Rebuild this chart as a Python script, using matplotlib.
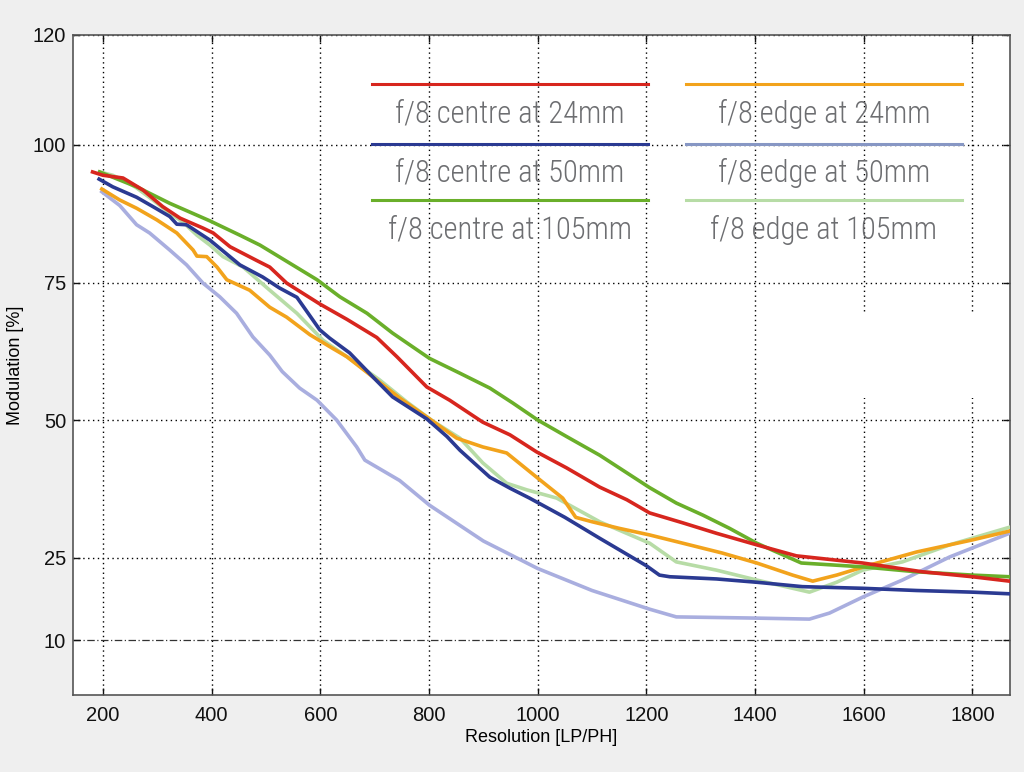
import matplotlib
matplotlib.use("Agg")
import matplotlib.pyplot as plt
from matplotlib.patches import Rectangle
from matplotlib import font_manager

# ---- data ----
red_x = [181, 200, 237, 274, 310, 342, 384, 403, 434, 483, 507, 538, 599, 649, 704, 741, 796, 838, 899, 949, 998, 1053, 1114, 1164, 1206, 1267, 1329, 1403, 1476, 1598, 1708, 1800, 1868]
red_y = [95.1, 94.5, 94.0, 91.8, 88.8, 86.7, 84.9, 84, 81.5, 79, 77.8, 74.9, 71.1, 68.3, 65, 61.5, 56, 53.6, 49.6, 47.3, 44.2, 41.3, 37.8, 35.5, 33.1, 31.3, 29.4, 27.3, 25.3, 24, 22.4, 21.5, 20.7]

green_x = [194, 262, 323, 397, 452, 489, 544, 594, 636, 686, 733, 801, 857, 912, 954, 1000, 1053, 1114, 1206, 1255, 1304, 1353, 1403, 1485, 1598, 1697, 1800, 1868]
green_y = [95.1, 92.4, 89.4, 86.2, 83.6, 81.8, 78.5, 75.5, 72.4, 69.4, 65.8, 61.2, 58.5, 55.8, 53.1, 50, 47, 43.6, 37.7, 34.9, 32.7, 30.3, 27.6, 24, 23.3, 22.4, 21.8, 21.5]

blue_x = [193, 218, 262, 292, 323, 336, 354, 397, 452, 494, 525, 557, 599, 617, 654, 697, 733, 796, 833, 857, 912, 949, 985, 1050, 1114, 1200, 1224, 1243, 1329, 1403, 1487, 1598, 1697, 1800, 1868]
blue_y = [93.8, 92.4, 90.5, 88.8, 87, 85.6, 85.5, 82.7, 78.2, 76, 74, 72.3, 66.4, 64.9, 62.2, 57.8, 54.2, 50.2, 47, 44.5, 39.6, 37.6, 35.8, 32.3, 28.5, 23.5, 21.8, 21.5, 21.1, 20.5, 19.7, 19.4, 19, 18.7, 18.4]

orange_x = [198, 231, 262, 299, 336, 366, 373, 391, 410, 428, 470, 507, 538, 581, 623, 649, 697, 746, 801, 851, 899, 943, 998, 1046, 1070, 1100, 1150, 1206, 1267, 1340, 1403, 1469, 1506, 1550, 1610, 1697, 1800, 1868]
orange_y = [92, 90, 88.5, 86.4, 84, 80.9, 79.8, 79.7, 77.8, 75.5, 73.6, 70.5, 68.7, 65.5, 63, 61.5, 57.8, 54, 50.2, 46.7, 45.1, 44, 39.6, 35.8, 32.3, 31.5, 30.3, 29.1, 27.6, 25.8, 24, 21.8, 20.7, 21.8, 23.6, 26, 28.2, 29.8]

purple_x = [198, 231, 262, 286, 323, 354, 384, 415, 446, 476, 507, 530, 562, 594, 630, 667, 682, 746, 801, 900, 1000, 1100, 1206, 1255, 1390, 1500, 1537, 1598, 1671, 1758, 1868]
purple_y = [91.5, 89, 85.5, 84, 80.9, 78.2, 74.9, 72.4, 69.4, 65.1, 61.8, 58.8, 55.8, 53.6, 50, 45.1, 42.7, 39, 34.5, 28, 23, 19, 15.6, 14.2, 14, 13.8, 14.9, 17.8, 20.9, 25.1, 29.4]

lgreen_x = [194, 218, 244, 262, 292, 323, 347, 373, 397, 421, 458, 507, 557, 605, 649, 709, 759, 807, 857, 899, 943, 980, 1035, 1114, 1206, 1255, 1329, 1403, 1500, 1550, 1598, 1671, 1758, 1868]
lgreen_y = [95.1, 94.5, 93.3, 92.2, 90, 87.6, 86, 83.6, 81.8, 79.7, 77.8, 73.6, 69.4, 64.5, 61.5, 57.3, 53.3, 49.8, 46.7, 42.2, 38.5, 37.3, 35.8, 31.5, 27.6, 24.2, 22.7, 20.9, 18.7, 20.5, 22.7, 24.2, 27.3, 30.5]

labels_left = ["f/8 centre at 24mm", "f/8 centre at 50mm", "f/8 centre at 105mm"]
labels_right = ["f/8 edge at 24mm", "f/8 edge at 50mm", "f/8 edge at 105mm"]

x_ticks = [200, 400, 600, 800, 1000, 1200, 1400, 1600, 1800]
y_ticks = [10, 25, 50, 75, 100, 120]

# ---- style ----
c_red = "#d7261e"
c_blue = "#2b3a92"
c_green = "#6aaf2a"
c_orange = "#f2a31c"
c_purple = "#a9aedf"
c_lgreen = "#b7dca6"
c_purple_leg = "#8797c4"

fonts = font_manager.fontManager.ttflist
avail = {f.name for f in fonts}
leg_font = "DejaVu Sans"
for cand in ["Liberation Sans Narrow", "Roboto Condensed", "DejaVu Sans Condensed", "Open Sans Condensed"]:
    if cand in avail:
        leg_font = cand
        break
has_light = any(f.name == leg_font and f.weight in (300, "light") for f in fonts)
leg_weight = "light" if has_light else "normal"

plt.rcParams['font.family'] = ['Liberation Sans', 'DejaVu Sans']

fig = plt.figure(figsize=(10.24, 7.72), dpi=100, facecolor="#efefef")
ax = fig.add_axes([73/1024, 1 - 695/772, (1010 - 73)/1024, (695 - 35)/772])
ax.set_facecolor("white")

lw = 2.6
ax.plot(lgreen_x, lgreen_y, color=c_lgreen, lw=lw, zorder=3)
ax.plot(purple_x, purple_y, color=c_purple, lw=lw, zorder=3)
ax.plot(orange_x, orange_y, color=c_orange, lw=lw, zorder=4)
ax.plot(blue_x, blue_y, color=c_blue, lw=lw, zorder=4)
ax.plot(green_x, green_y, color=c_green, lw=lw, zorder=5)
ax.plot(red_x, red_y, color=c_red, lw=lw, zorder=5)

ax.set_xlim(145, 1869)
ax.set_ylim(0, 120)
ax.set_xticks(x_ticks)
ax.set_yticks(y_ticks)
ax.tick_params(direction="in", length=5, width=1, top=True, right=True,
               labelsize=14.5, colors="#111111", pad=8)
ax.tick_params(axis="y", pad=5)
for s in ax.spines.values():
    s.set_color("#555555")
    s.set_linewidth(1.2)

ax.grid(True, linestyle=(0, (1, 2.5)), color="black", linewidth=1.0, zorder=1)
for val, gl in zip(y_ticks, ax.get_ygridlines()):
    if val == 10:
        gl.set_linestyle((0, (6, 2, 1, 2)))
        gl.set_color("#333333")
        gl.set_linewidth(0.9)
ax.set_axisbelow(True)

# white patch that hides part of the grid on the right
ax.add_patch(Rectangle(((830 - 73)/937, (695 - 398)/660), (1000 - 830)/937, (398 - 312)/660,
                       transform=ax.transAxes, facecolor="white", edgecolor="none", zorder=1.5))

ax.set_xlabel("Resolution [LP/PH]", fontsize=13, labelpad=3)
ax.set_ylabel("Modulation [%]", fontsize=13, labelpad=6)

# ---- legend ----
tr = ax.transAxes
line_y = [(695 - 84)/660, (695 - 144)/660, (695 - 200)/660]
text_y = [(695 - 114)/660, (695 - 173)/660, (695 - 230)/660]
lx0, lx1 = (372 - 73)/937, (648 - 73)/937
rx0, rx1 = (686 - 73)/937, (962 - 73)/937
left_cols = [c_red, c_blue, c_green]
right_cols = [c_orange, c_purple_leg, c_lgreen]
for i in range(3):
    ax.plot([lx0, lx1], [line_y[i]] * 2, transform=tr, color=left_cols[i], lw=2.2, zorder=6, clip_on=False)
    ax.plot([rx0, rx1], [line_y[i]] * 2, transform=tr, color=right_cols[i], lw=2.2, zorder=6, clip_on=False)
    ax.text((lx0 + lx1)/2, text_y[i], labels_left[i], transform=tr, ha="center", va="center",
            fontsize=22, color="#6d6e71", family=[leg_font, "DejaVu Sans"], weight=leg_weight, zorder=6)
    ax.text((rx0 + rx1)/2, text_y[i], labels_right[i], transform=tr, ha="center", va="center",
            fontsize=22, color="#6d6e71", family=[leg_font, "DejaVu Sans"], weight=leg_weight, zorder=6)

fig.savefig("out.png", dpi=100, facecolor=fig.get_facecolor())
